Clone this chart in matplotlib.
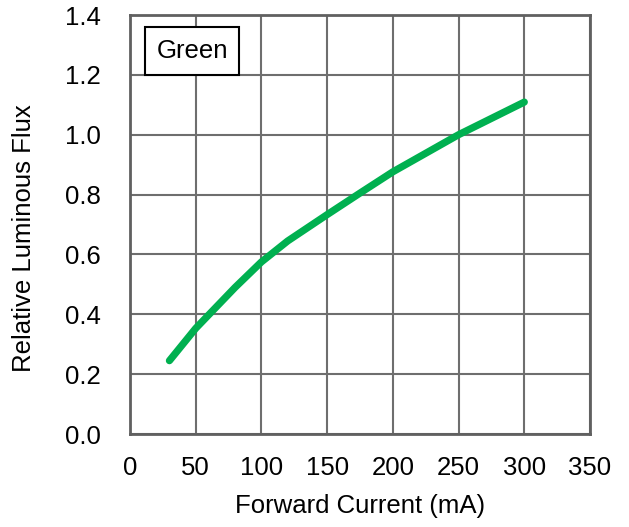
import matplotlib
matplotlib.use("Agg")
import matplotlib.pyplot as plt

# Relative luminous flux vs forward current (Green)
current_ma = [30, 50, 80, 100, 120, 150, 175, 200, 250, 300]
rel_flux = [0.245, 0.353, 0.49, 0.575, 0.645, 0.733, 0.805, 0.876, 1.0, 1.109]

x_ticks = [0, 50, 100, 150, 200, 250, 300, 350]
y_ticks = [0.0, 0.2, 0.4, 0.6, 0.8, 1.0, 1.2, 1.4]

plt.rcParams['font.family'] = ['Liberation Sans', 'DejaVu Sans']
plt.rcParams['font.size'] = 18.5

fig = plt.figure(figsize=(6.29, 5.27), dpi=100)
ax = fig.add_axes([130 / 629, 1 - 434 / 527, 460 / 629, 419 / 527])

ax.plot(current_ma, rel_flux, color='#00B050', lw=5.2,
        solid_capstyle='round', solid_joinstyle='round', zorder=3)

ax.set_xlim(0, 350)
ax.set_ylim(0, 1.4)
ax.set_xticks(x_ticks)
ax.set_yticks(y_ticks)
ax.set_yticklabels([f"{v:.1f}" for v in y_ticks])
ax.tick_params(length=0)
ax.tick_params(axis='y', pad=21)
ax.tick_params(axis='x', pad=16)

ax.grid(True, color='#6e6e6e', lw=1.5)
ax.set_axisbelow(True)
for sp in ax.spines.values():
    sp.set_color('#606060')
    sp.set_linewidth(2)

ax.set_xlabel('Forward Current (mA)', labelpad=10)
ax.set_ylabel('Relative Luminous Flux')
ax.yaxis.set_label_coords(-0.205, 0.468)

ax.text(0.135, 0.914, 'Green', transform=ax.transAxes, ha='center', va='center',
        fontsize=18.5,
        bbox=dict(boxstyle='square,pad=0.45', fc='white', ec='black', lw=1.5),
        zorder=5)

fig.savefig('out.png', dpi=100)
